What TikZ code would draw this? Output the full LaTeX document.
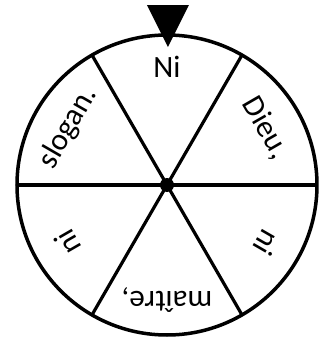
\documentclass[tikz,border=0pt]{standalone}
\usepackage{fontspec}
\setmainfont{Carlito}
\begin{document}
\begin{tikzpicture}[x=1pt,y=1pt,
  rim/.style={line width=3.5pt},
  spoke/.style={line width=3.2pt},
  lbl/.style={font=\fontsize{31}{33}\selectfont, inner sep=0pt, anchor=center}]
\useasboundingbox (-167,-153) rectangle (161,185);
\coordinate (c) at (0,0);
\draw[rim] (c) circle (150);
\foreach \a in {0,60,120} {
  \draw[spoke] (\a:150) -- (\a+180:150);
}
\fill (c) circle (7);
\node[lbl, rotate=0]    (l1) at (90:118)  {Ni};
\node[lbl, rotate=-60]  (l2) at (30:114)  {Dieu,};
\node[lbl, rotate=-120] (l3) at (-30:115) {ni};
\node[lbl, rotate=180]  (l4) at (-90:115) {maître,};
\node[lbl, rotate=120]  (l5) at (-150:115){ni};
\node[lbl, rotate=60]   (l6) at (150:114) {slogan.};
\fill (-20,180) -- (22,180) -- (1,138) -- cycle;
\end{tikzpicture}
\end{document}
